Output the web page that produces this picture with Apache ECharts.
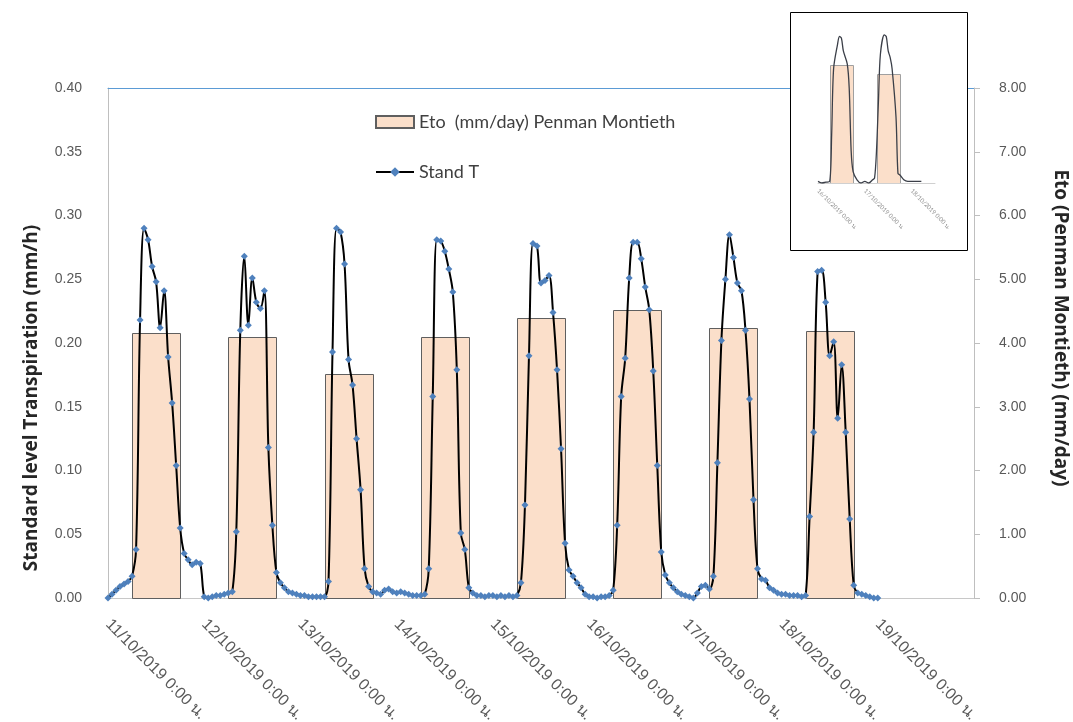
<!DOCTYPE html>
<html>
<head>
<meta charset="utf-8">
<script src="https://cdn.jsdelivr.net/npm/echarts@6/dist/echarts.min.js"></script>
<style>
html, body { margin: 0; padding: 0; background: #fff; }
#main { width: 1073px; height: 722px; }
</style>
</head>
<body>
<div id="main"></div>
<script>
// Stand T (mm/h), hourly values 0:00 .. 23:00 for each day of October 2019
const t11 = [0.000, 0.003, 0.006, 0.009, 0.011, 0.013, 0.017, 0.038, 0.218, 0.290, 0.281, 0.260, 0.248, 0.212, 0.241, 0.189, 0.153, 0.104, 0.055, 0.035, 0.030, 0.026, 0.028, 0.027]
const t12 = [0.001, 0.000, 0.001, 0.002, 0.002, 0.003, 0.004, 0.005, 0.052, 0.210, 0.268, 0.214, 0.251, 0.232, 0.227, 0.241, 0.118, 0.057, 0.020, 0.012, 0.008, 0.005, 0.004, 0.003]
const t13 = [0.002, 0.002, 0.001, 0.001, 0.001, 0.001, 0.001, 0.013, 0.193, 0.290, 0.287, 0.262, 0.187, 0.167, 0.125, 0.085, 0.023, 0.009, 0.005, 0.004, 0.003, 0.006, 0.007, 0.005]
const t14 = [0.004, 0.005, 0.004, 0.003, 0.002, 0.002, 0.002, 0.003, 0.023, 0.158, 0.281, 0.280, 0.272, 0.258, 0.240, 0.179, 0.051, 0.038, 0.008, 0.004, 0.002, 0.002, 0.001, 0.002]
const t15 = [0.002, 0.001, 0.002, 0.001, 0.002, 0.001, 0.002, 0.012, 0.073, 0.190, 0.278, 0.276, 0.247, 0.249, 0.253, 0.224, 0.179, 0.117, 0.043, 0.022, 0.017, 0.012, 0.008, 0.003]
const t16 = [0.001, 0.001, 0.000, 0.001, 0.001, 0.002, 0.006, 0.057, 0.158, 0.188, 0.251, 0.279, 0.279, 0.266, 0.244, 0.226, 0.178, 0.104, 0.036, 0.018, 0.012, 0.008, 0.005, 0.003]
const t17 = [0.002, 0.001, 0.000, 0.004, 0.009, 0.010, 0.007, 0.017, 0.106, 0.202, 0.250, 0.285, 0.267, 0.247, 0.241, 0.210, 0.156, 0.077, 0.023, 0.015, 0.014, 0.008, 0.006, 0.004]
const t18 = [0.003, 0.003, 0.002, 0.002, 0.002, 0.001, 0.002, 0.064, 0.130, 0.256, 0.257, 0.232, 0.190, 0.201, 0.141, 0.183, 0.130, 0.062, 0.010, 0.004, 0.003, 0.002, 0.001, 0.000]
const t19 = [0.000]
const standDays = [11, 12, 13, 14, 15, 16, 17, 18, 19]
const standValues = [t11, t12, t13, t14, t15, t16, t17, t18, t19]

// Eto (mm/day) Penman Montieth, one bar per day
const etoDays = [11, 12, 13, 14, 15, 16, 17, 18]
const etoValues = [4.16, 4.09, 3.51, 4.09, 4.39, 4.51, 4.24, 4.19]

// small inset chart (no visible value axis, relative heights)
const insetHours = [0, 2, 4, 6, 7, 8, 10, 11, 12, 13, 15, 16, 17, 18, 20, 22, 24, 26, 28, 29, 30, 31, 32, 34, 35, 36, 37, 38, 40, 41, 42, 44, 46, 48, 50, 52, 53]
const insetT = [0.01, 0.0, 0.005, 0.01, 0.30, 0.71, 0.86, 0.91, 0.90, 0.82, 0.74, 0.59, 0.20, 0.07, 0.02, 0.0, 0.01, 0.0, 0.02, 0.03, 0.20, 0.51, 0.80, 0.92, 0.91, 0.82, 0.78, 0.71, 0.41, 0.06, 0.05, 0.02, 0.01, 0.01, 0.01, 0.01, 0.01]
const insetEtoDays = [16, 17]
const insetEto = [0.73, 0.68]

const HOUR = 3600 * 1000
const DAY = 24 * HOUR
const d = (day, hour) => new Date(2019, 9, day, hour || 0).getTime()

let lineData = []
standValues.forEach((arr, i) => {
    arr.forEach((v, h) => lineData.push([d(standDays[i], h), v]))
})
const barData = etoDays.map((day, i) => [d(day, 12), etoValues[i]])
const insetLine = insetHours.map((h, i) => [d(16, 0) + h * HOUR, insetT[i]])
const insetBars = insetEtoDays.map((day, i) => [d(day, 12), insetEto[i]])

function dateLabel(v) {
    const dt = new Date(v)
    return dt.getDate() + '/' + (dt.getMonth() + 1) + '/' + dt.getFullYear() + ' 0:00 น.'
}

// daily bar, drawn from 6:00 to 18:00 of its day
function dayBar(stroke) {
    return function (params, api) {
        const p0 = api.coord([api.value(0) - 6 * HOUR, api.value(1)])
        const p1 = api.coord([api.value(0) + 6 * HOUR, 0])
        return {
            type: 'rect',
            shape: { x: Math.round(p0[0]) + 0.5, y: Math.round(p0[1]) + 0.5, width: Math.round(p1[0] - p0[0]), height: Math.round(p1[1] - p0[1]) },
            style: { fill: '#FBDFCA', stroke: stroke, lineWidth: 1 },
        }
    }
}

let myChart = echarts.init(document.getElementById('main'))
myChart.setOption({
    animation: false,
    textStyle: { fontFamily: 'Lato, "Liberation Sans", sans-serif' },
    grid: [
        { left: 108, right: 99, top: 88, bottom: 124, outerBoundsMode: 'none' },
        { left: 818, top: 22, width: 117, height: 161, outerBoundsMode: 'none' },
    ],
    legend: {
        orient: 'vertical',
        left: 375,
        top: 113,
        padding: 0,
        itemWidth: 38,
        itemHeight: 12,
        itemGap: 32,
        textStyle: { fontSize: 18, color: '#404040', fontFamily: 'Lato' },
        data: [
            { name: 'Eto  (mm/day) Penman Montieth', icon: 'rect' },
            { name: 'Stand T' },
        ],
    },
    graphic: {
        elements: [
            {
                type: 'rect',
                z: 50,
                shape: { x: 790.5, y: 12.5, width: 177, height: 238 },
                style: { fill: '#fff', stroke: '#000', lineWidth: 1 },
            },
        ],
    },
    xAxis: [
        {
            type: 'time',
            gridIndex: 0,
            min: d(11),
            max: d(20),
            minInterval: DAY,
            maxInterval: DAY,
            axisLine: { onZero: false, lineStyle: { color: '#c8c8c8' } },
            axisTick: { show: false },
            splitLine: { show: false },
            axisLabel: {
                rotate: -45,
                margin: 24,
                fontSize: 16,
                color: '#595959',
                fontFamily: '"Liberation Sans", Arial, sans-serif',
                showMaxLabel: false,
                hideOverlap: false,
                formatter: dateLabel,
            },
        },
        {
            type: 'time',
            gridIndex: 0,
            position: 'top',
            min: d(11),
            max: d(20),
            axisLine: { onZero: false, lineStyle: { color: '#5B9BD5', width: 1 } },
            axisTick: { show: false },
            axisLabel: { show: false },
            splitLine: { show: false },
        },
        {
            type: 'time',
            gridIndex: 1,
            z: 60,
            min: d(16),
            max: d(18, 12),
            minInterval: DAY,
            maxInterval: DAY,
            axisLine: { onZero: false, lineStyle: { color: '#d0d0d0' } },
            axisTick: { show: false },
            splitLine: { show: false },
            axisLabel: {
                rotate: -45,
                margin: 7,
                fontSize: 6,
                color: '#8c8c8c',
                hideOverlap: false,
                formatter: dateLabel,
            },
        },
    ],
    yAxis: [
        {
            type: 'value',
            gridIndex: 0,
            position: 'left',
            min: 0,
            max: 0.4,
            interval: 0.05,
            name: 'Standard level Transpiration (mm/h)',
            nameLocation: 'middle',
            nameGap: 67,
            nameTextStyle: { fontSize: 19, fontWeight: 'bold', color: '#262626', fontFamily: '"Open Sans"', padding: [0, 110, 0, 0] },
            axisLine: { show: true, lineStyle: { color: '#bfbfbf' } },
            axisTick: { show: false },
            splitLine: { show: false },
            axisLabel: {
                margin: 26,
                fontSize: 14,
                color: '#595959',
                fontFamily: '"Liberation Sans", Arial, sans-serif',
                formatter: (v) => v.toFixed(2),
            },
        },
        {
            type: 'value',
            gridIndex: 0,
            position: 'right',
            min: 0,
            max: 8,
            interval: 1,
            name: 'Eto (Penman Montieth) (mm/day)',
            nameLocation: 'middle',
            nameRotate: -90,
            nameGap: 77,
            nameTextStyle: { fontSize: 19, fontWeight: 'bold', color: '#262626', fontFamily: '"Open Sans"', padding: [0, 30, 0, 0] },
            axisLine: { show: true, lineStyle: { color: '#bfbfbf' } },
            axisTick: { show: true, inside: false, length: 6, lineStyle: { color: '#bfbfbf' } },
            splitLine: { show: false },
            axisLabel: {
                margin: 25,
                fontSize: 14,
                color: '#595959',
                fontFamily: '"Liberation Sans", Arial, sans-serif',
                formatter: (v) => v.toFixed(2),
            },
        },
        {
            type: 'value',
            gridIndex: 1,
            min: 0,
            max: 1,
            show: false,
        },
    ],
    series: [
        {
            name: 'Eto  (mm/day) Penman Montieth',
            type: 'custom',
            xAxisIndex: 0,
            yAxisIndex: 1,
            encode: { x: 0, y: 1 },
            itemStyle: { color: '#FBDFCA', borderColor: '#5f5f5f', borderWidth: 1 },
            renderItem: dayBar('#5f5f5f'),
            data: barData,
        },
        {
            name: 'Stand T',
            type: 'line',
            xAxisIndex: 0,
            yAxisIndex: 0,
            smooth: 0.35,
            symbol: 'diamond',
            symbolSize: 7,
            itemStyle: { color: '#4F81BD' },
            lineStyle: { color: '#000', width: 2 },
            data: lineData,
        },
        {
            name: 'inset Eto',
            type: 'custom',
            xAxisIndex: 2,
            yAxisIndex: 2,
            z: 60,
            encode: { x: 0, y: 1 },
            renderItem: dayBar('#a0a0a0'),
            data: insetBars,
        },
        {
            name: 'inset T',
            type: 'line',
            xAxisIndex: 2,
            yAxisIndex: 2,
            z: 61,
            smooth: 0.3,
            symbol: 'none',
            lineStyle: { color: '#3b3f48', width: 1.3 },
            data: insetLine,
        },
    ],
})
</script>
</body>
</html>
